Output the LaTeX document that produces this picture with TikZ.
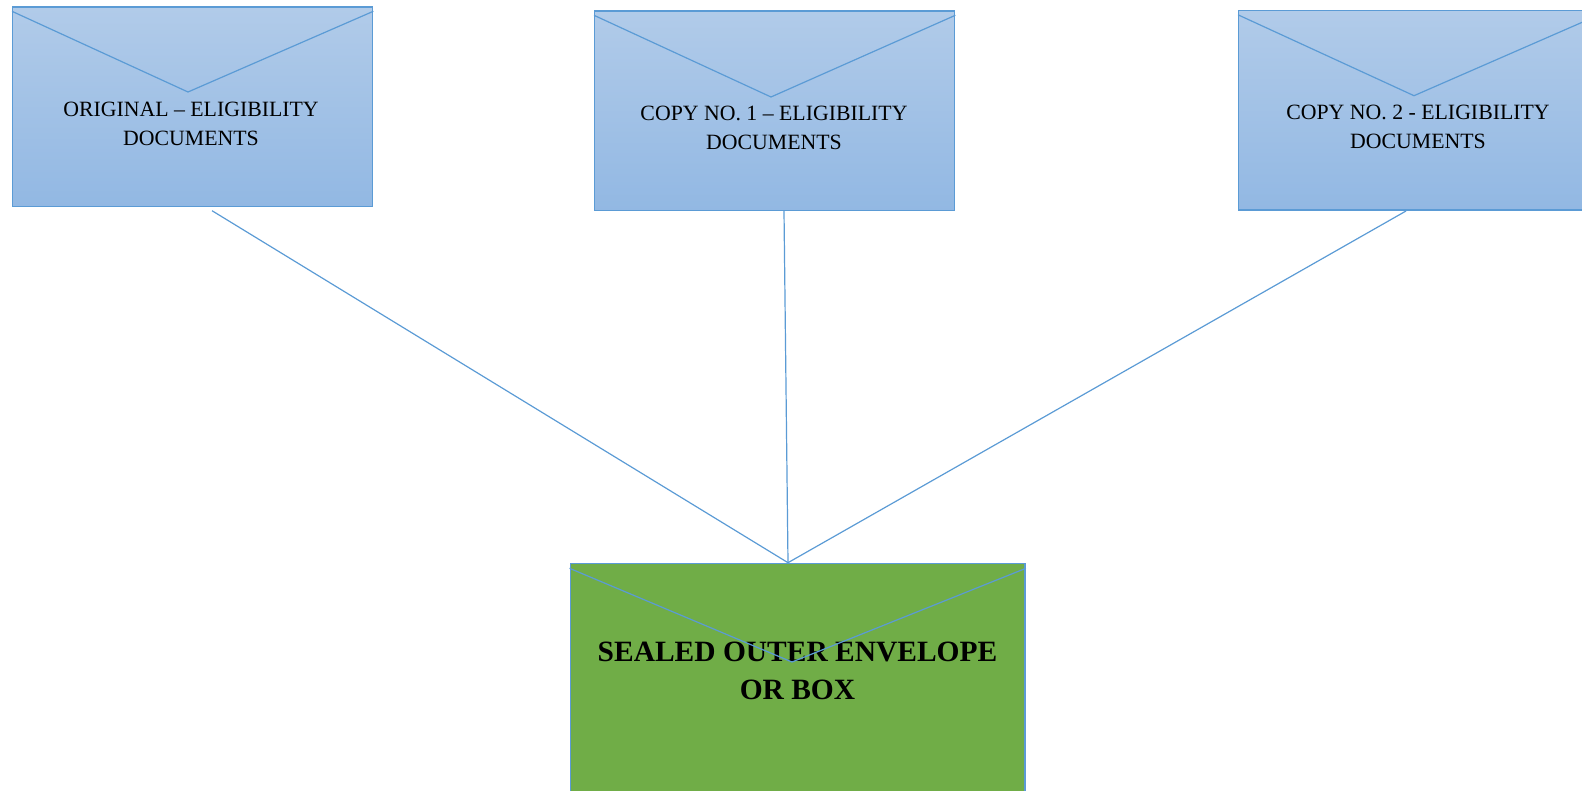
\documentclass[tikz,border=0pt]{standalone}
\usepackage{fontspec}
\setmainfont{Liberation Serif}
\usetikzlibrary{
  calc,
  positioning
}
\definecolor{edgeblue}{RGB}{91,155,213}
\definecolor{flaptop}{RGB}{177,203,233}
\definecolor{flapbottom}{RGB}{146,184,227}
\definecolor{outergreen}{RGB}{112,173,71}

\begin{document}
\begin{tikzpicture}[
  x=0.75pt, y=-0.75pt,
  envelope/.style={draw=edgeblue, line width=1pt, inner sep=0pt, anchor=north west},
  inner envelope/.style={envelope, minimum width=270pt, minimum height=149.5pt,
                         top color=flaptop, bottom color=flapbottom},
  outer envelope/.style={envelope, fill=outergreen, line width=1.3pt, minimum width=341pt, minimum height=200pt},
  flap/.style={draw=edgeblue, line width=0.9pt},
  link/.style={draw=edgeblue, line width=0.9pt},
  caption/.style={align=center, inner sep=0pt, font=\fontsize{16.35pt}{21.6pt}\selectfont},
  bigcaption/.style={align=center, inner sep=0pt, font=\fontsize{22.1pt}{28.5pt}\selectfont\bfseries}
]
\clip (0,0) rectangle (1582,791);

\node[inner envelope] (orig) at (12,6.5) {};
\node[inner envelope] (copya) at (594,10.5) {};
\node[inner envelope] (copyb) at (1238,10) {};
\node[outer envelope] (sealed) at (569.5,562.7) {};

\node[caption] (origtext) at (191,124) {ORIGINAL -- ELIGIBILITY\\DOCUMENTS};
\node[caption] (copyatext) at (774,127.5) {COPY NO. 1 -- ELIGIBILITY\\DOCUMENTS};
\node[caption] (copybtext) at (1418,126.5) {COPY NO. 2 - ELIGIBILITY\\DOCUMENTS};
\node[bigcaption] (sealedtext) at (797.5,671) {SEALED OUTER ENVELOPE\\OR BOX};

% Flaps
\draw[flap] ($(orig.north west)+(0,4.8)$) -- (188,92) -- ($(orig.north east)+(0,4.8)$);
\draw[flap] ($(copya.north west)+(0,4.8)$) -- (771,97) -- ($(copya.north east)+(0,4.8)$);
\draw[flap] ($(copyb.north west)+(0,4.8)$) -- (1414,95.7) -- ($(copyb.north east)+(0,4.8)$);
\draw[flap] ($(sealed.north west)+(0,5.6)$) -- (792,662) -- ($(sealed.north east)+(0,5.6)$);

% Connectors
\coordinate (join) at (788,562.7);
\coordinate (origend) at (212,210.7);
\coordinate (copyaend) at (784,211);
\coordinate (copybend) at (1406,211);
\draw[link] (origend) -- (join);
\draw[link] (copyaend) -- (join);
\draw[link] (copybend) -- (join);

\end{tikzpicture}
\end{document}
